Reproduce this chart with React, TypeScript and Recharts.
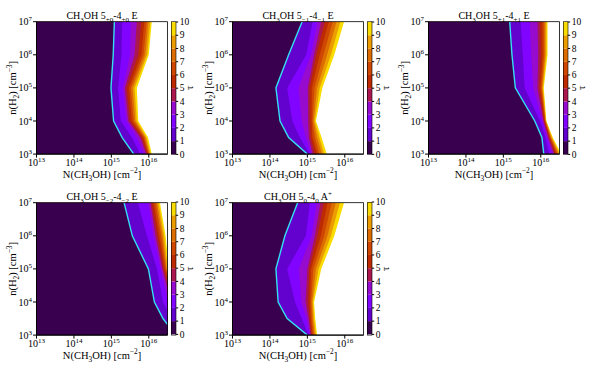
import { ComposedChart, Area, Line, XAxis, YAxis, BarChart, Bar } from 'recharts';

const SERIF = "'Liberation Serif', 'Times New Roman', 'DejaVu Serif', serif";
const CYAN = '#33dff2';

// log10 n(H2) rows where contour positions were read
const logDensity = [3, 3.5, 4, 5, 6, 7];
const xTicks = [13, 14, 15, 16];
const yTicks = [3, 4, 5, 6, 7];
const tauLevels = [0, 1, 2, 3, 4, 5, 6, 7, 8, 9, 10];
// gnuplot colormap at band midpoints
const bandColors = ['#39004f', '#6301ce', '#8004ff', '#970bce', '#ab174f', '#bd2a00', '#ce4600', '#dd6c00', '#eb9d00', '#f9db00'];

// log10 N(CH3OH) where tau = 1..10, one row per level, columns follow logDensity
const tauK0E = [
  [15.60, 15.29, 15.06, 14.99, 15.05, 15.08],
  [15.77, 15.55, 15.25, 15.18, 15.27, 15.29],
  [15.87, 15.68, 15.40, 15.31, 15.50, 15.52],
  [15.93, 15.77, 15.45, 15.36, 15.62, 15.68],
  [15.96, 15.81, 15.50, 15.41, 15.72, 15.80],
  [15.98, 15.85, 15.55, 15.47, 15.80, 15.88],
  [16.00, 15.88, 15.60, 15.52, 15.86, 15.94],
  [16.02, 15.91, 15.64, 15.57, 15.91, 15.99],
  [16.05, 15.94, 15.68, 15.62, 15.96, 16.04],
  [16.08, 15.98, 15.72, 15.68, 16.00, 16.08],
];
const tauKm1E = [
  [15.00, 14.50, 14.27, 14.16, 14.50, 14.86],
  [15.06, 14.80, 14.60, 14.46, 14.97, 15.14],
  [15.10, 14.96, 14.85, 14.76, 15.10, 15.27],
  [15.14, 15.04, 15.02, 15.01, 15.18, 15.37],
  [15.20, 15.09, 15.07, 15.06, 15.24, 15.47],
  [15.26, 15.14, 15.11, 15.12, 15.33, 15.57],
  [15.32, 15.20, 15.14, 15.19, 15.43, 15.68],
  [15.39, 15.26, 15.17, 15.26, 15.53, 15.78],
  [15.45, 15.32, 15.20, 15.33, 15.63, 15.88],
  [15.52, 15.38, 15.23, 15.40, 15.72, 15.98],
];
const tauKp1E = [
  [16.08, 16.03, 15.84, 15.32, 15.23, 15.17],
  [16.22, 16.12, 15.98, 15.57, 15.52, 15.46],
  [16.30, 16.17, 16.04, 15.80, 15.74, 15.71],
  [16.35, 16.20, 16.07, 15.91, 15.93, 15.91],
  [16.39, 16.22, 16.09, 15.96, 16.00, 15.98],
  [16.42, 16.24, 16.11, 15.99, 16.05, 16.04],
  [16.45, 16.26, 16.12, 16.02, 16.09, 16.08],
  [16.48, 16.28, 16.13, 16.04, 16.12, 16.12],
  [16.51, 16.30, 16.14, 16.06, 16.15, 16.15],
  [16.55, 16.32, 16.15, 16.08, 16.18, 16.18],
];
const tauKm2E = [
  [16.72, 16.38, 16.15, 15.99, 15.56, 15.34],
  [16.90, 16.60, 16.38, 16.22, 15.95, 15.71],
  [17.00, 16.72, 16.52, 16.32, 16.12, 15.99],
  [17.10, 16.80, 16.60, 16.36, 16.18, 16.04],
  [17.20, 16.88, 16.65, 16.40, 16.23, 16.08],
  [17.30, 16.95, 16.70, 16.43, 16.28, 16.13],
  [17.40, 17.00, 16.75, 16.46, 16.33, 16.18],
  [17.50, 17.10, 16.80, 16.48, 16.37, 16.22],
  [17.60, 17.20, 16.85, 16.51, 16.41, 16.26],
  [17.70, 17.30, 16.90, 16.54, 16.45, 16.30],
];
const tauK0A = [
  [15.00, 14.46, 14.22, 14.16, 14.40, 14.74],
  [15.03, 14.85, 14.67, 14.46, 14.96, 15.07],
  [15.06, 14.98, 14.84, 14.77, 15.12, 15.25],
  [15.09, 15.03, 14.95, 15.00, 15.20, 15.35],
  [15.11, 15.06, 15.02, 15.05, 15.27, 15.44],
  [15.14, 15.09, 15.07, 15.10, 15.36, 15.54],
  [15.17, 15.12, 15.10, 15.16, 15.45, 15.65],
  [15.20, 15.15, 15.13, 15.23, 15.54, 15.76],
  [15.23, 15.18, 15.15, 15.30, 15.63, 15.87],
  [15.26, 15.21, 15.18, 15.37, 15.72, 15.98],
];

type Part = [string, number];

const titleK0E: Part[] = [['CH', 0], ['3', 1], ['OH 5', 0], ['+0', 1], ['-4', 0], ['+0', 1], [' E', 0]];
const titleKm1E: Part[] = [['CH', 0], ['3', 1], ['OH 5', 0], ['\u22121', 1], ['-4', 0], ['\u22121', 1], [' E', 0]];
const titleKp1E: Part[] = [['CH', 0], ['3', 1], ['OH 5', 0], ['+1', 1], ['-4', 0], ['+1', 1], [' E', 0]];
const titleKm2E: Part[] = [['CH', 0], ['3', 1], ['OH 5', 0], ['\u22122', 1], ['-4', 0], ['\u22122', 1], [' E', 0]];
const titleK0A: Part[] = [['CH', 0], ['3', 1], ['OH 5', 0], ['0', 1], ['-4', 0], ['0', 1], [' A', 0], ['+', -1]];
const xLabel: Part[] = [['N(CH', 0], ['3', 1], ['OH) [cm', 0], ['\u22122', -1], [']', 0]];
const yLabel: Part[] = [['n(H', 0], ['2', 1], [') [cm', 0], ['\u22123', -1], [']', 0]];

const BOX_W = 200;
const BOX_H = 184;
const PL = 36.5;
const PT = 21.7;
const PW = 131;
const PH = 132.4;
const XAXIS_H = 25;
const CB_X = 171.3;
const CB_W = 4.7;
const CB_PAD = 6;

function RichText({ x, y, parts, size, anchor = 'middle', rotate = false }: { x: number; y: number; parts: Part[]; size: number; anchor?: string; rotate?: boolean }) {
  let cur = 0;
  return (
    <text x={x} y={y} textAnchor={anchor} fontSize={size} fontFamily={SERIF} fill="#000"
      transform={rotate ? `rotate(-90 ${x} ${y})` : undefined}>
      {parts.map(([t, s], i) => {
        const target = s === 1 ? size * 0.3 : s === -1 ? -size * 0.4 : 0;
        const dy = target - cur;
        cur = target;
        return (
          <tspan key={i} dy={dy} fontSize={s ? size * 0.7 : size}>{t}</tspan>
        );
      })}
    </text>
  );
}

function XTick({ x, y, payload }: any) {
  return (
    <text x={x} y={y + 6.8} textAnchor="middle" fontSize={10} fontFamily={SERIF} fill="#000">
      <tspan>10</tspan>
      <tspan dy={-4} fontSize={7}>{payload.value}</tspan>
    </text>
  );
}

function YTick({ x, y, payload }: any) {
  return (
    <text x={x + 1} y={y + 3.5} textAnchor="end" fontSize={10} fontFamily={SERIF} fill="#000">
      <tspan>10</tspan>
      <tspan dy={-4} fontSize={7}>{payload.value}</tspan>
    </text>
  );
}

function CbTick({ x, y, payload }: any) {
  return (
    <text x={x} y={y + 3.2} textAnchor="start" fontSize={9.5} fontFamily={SERIF} fill="#000">
      {payload.value}
    </text>
  );
}

function Colorbar() {
  const row: Record<string, number | string> = { name: 'tau' };
  tauLevels.slice(1).forEach((lv, i) => {
    row['b' + i] = lv - tauLevels[i];
  });
  return (
    <BarChart width={CB_W + 20} height={PH + 2 * CB_PAD} data={[row]} barCategoryGap={0}
      margin={{ top: CB_PAD, right: 0, bottom: CB_PAD, left: 0 }}>
      <XAxis dataKey="name" hide />
      <YAxis orientation="right" type="number" domain={[0, 10]} ticks={tauLevels} interval={0}
        width={20} tickSize={2.5} tickMargin={1.5} axisLine={false} stroke="#000" tick={<CbTick />} />
      {bandColors.map((c, i) => (
        <Bar key={i} dataKey={'b' + i} stackId="cb" fill={c} isAnimationActive={false} />
      ))}
    </BarChart>
  );
}

function Panel({ ox, oy, title, rows }: { ox: number; oy: number; title: Part[]; rows: number[][] }) {
  const data = logDensity.map((y, i) => {
    const row: Record<string, number> = { y };
    rows.forEach((r, k) => {
      row['t' + (k + 1)] = r[i];
    });
    return row;
  });
  const order = rows.map((_, k) => rows.length - 1 - k);
  return (
    <div style={{ position: 'absolute', left: ox, top: oy, width: BOX_W, height: BOX_H }}>
      <ComposedChart width={BOX_W} height={BOX_H} layout="vertical" data={data}
        margin={{ top: PT, left: 0, right: BOX_W - PL - PW, bottom: BOX_H - PT - PH - XAXIS_H }}>
        <XAxis type="number" domain={[13, 16.5]} ticks={xTicks} interval={0} allowDataOverflow
          height={XAXIS_H} tickSize={3.5} stroke="#000" tick={<XTick />} />
        <YAxis type="number" dataKey="y" domain={[3, 7]} ticks={yTicks} interval={0} allowDataOverflow reversed
          width={PL} tickSize={3.5} stroke="#000" tick={<YTick />} />
        {order.map((k) => (
          <Area key={k} dataKey={'t' + (k + 1)} type="linear" baseValue="dataMin"
            fill={bandColors[k]} fillOpacity={1} stroke="none" isAnimationActive={false} />
        ))}
        <Line dataKey="t1" type="linear" stroke={CYAN} strokeWidth={1.4} dot={false} isAnimationActive={false} />
      </ComposedChart>
      <div style={{ position: 'absolute', left: CB_X, top: PT - CB_PAD }}>
        <Colorbar />
      </div>
      <svg width={BOX_W} height={BOX_H} style={{ position: 'absolute', left: 0, top: 0, overflow: 'visible', pointerEvents: 'none' }}>
        <rect x={PL} y={PT} width={PW} height={PH} fill="none" stroke="#000" strokeWidth={0.8} />
        <rect x={CB_X} y={PT} width={CB_W} height={PH} fill="none" stroke="#000" strokeWidth={0.6} />
        <RichText x={PL + PW / 2} y={18.7} parts={title} size={10} />
        <RichText x={PL + PW / 2} y={177.5} parts={xLabel} size={10.5} />
        <RichText x={16} y={PT + PH / 2} parts={yLabel} size={10.5} rotate />
        <text x={193} y={PT + PH / 2} textAnchor="middle" fontSize={11} fontFamily={SERIF}
          transform={`rotate(-90 193 ${PT + PH / 2})`}>τ</text>
      </svg>
    </div>
  );
}

export default function App() {
  return (
    <div style={{ position: 'absolute', left: 0, top: 0, width: 598, height: 368, background: '#fff' }}>
      <Panel ox={0} oy={0} title={titleK0E} rows={tauK0E} />
      <Panel ox={196.2} oy={0} title={titleKm1E} rows={tauKm1E} />
      <Panel ox={392} oy={0} title={titleKp1E} rows={tauKp1E} />
      <Panel ox={0} oy={180.6} title={titleKm2E} rows={tauKm2E} />
      <Panel ox={196.2} oy={180.6} title={titleK0A} rows={tauK0A} />
    </div>
  );
}
